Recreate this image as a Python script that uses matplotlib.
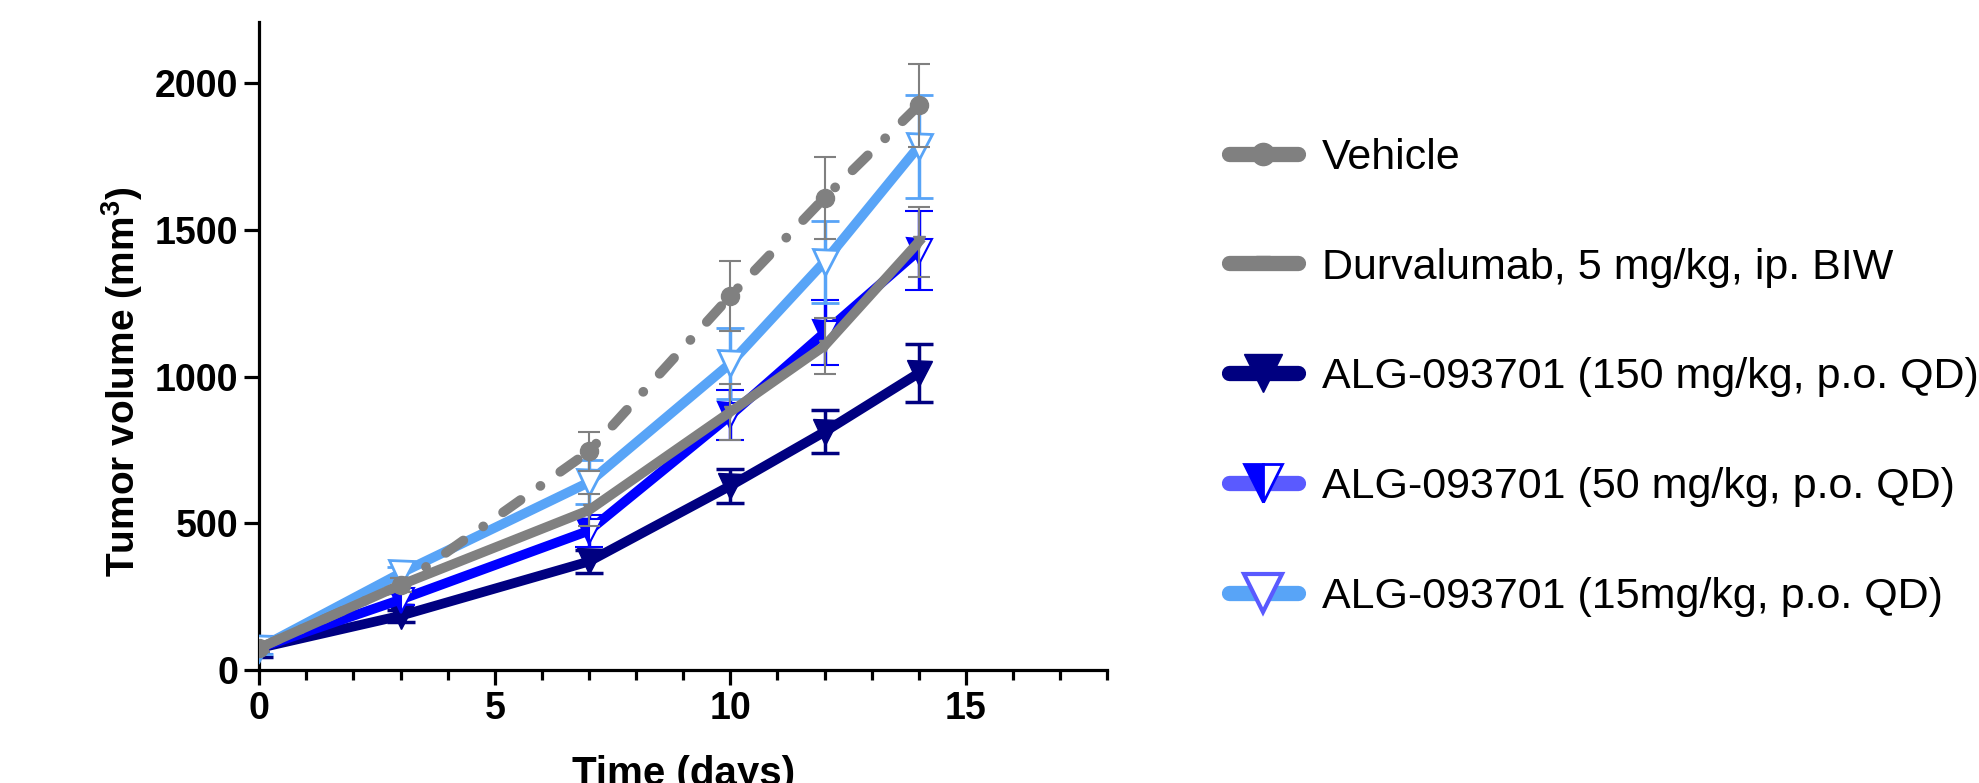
import matplotlib
matplotlib.use("Agg")
import matplotlib.pyplot as plt
from matplotlib.lines import Line2D

plt.rcParams['font.family'] = ['Liberation Sans', 'DejaVu Sans']
plt.rcParams['mathtext.fontset'] = 'custom'
plt.rcParams['mathtext.bf'] = 'Liberation Sans:bold'
plt.rcParams['mathtext.rm'] = 'Liberation Sans'

# data
days = [0, 3, 7, 10, 12, 14]

vehicle = [75, 290, 745, 1275, 1610, 1925]
vehicle_err = [15, 25, 65, 120, 140, 142]
durva = [75, 290, 545, 880, 1105, 1460]
durva_err = [15, 25, 55, 95, 95, 120]
alg150 = [75, 185, 370, 628, 812, 1012]
alg150_err = [30, 20, 40, 57, 73, 98]
alg50 = [75, 240, 475, 868, 1150, 1430]
alg50_err = [20, 20, 55, 85, 110, 135]
alg15 = [75, 330, 640, 1045, 1392, 1785]
alg15_err = [20, 20, 75, 120, 140, 175]

labels = ["Vehicle", "Durvalumab, 5 mg/kg, ip. BIW",
          "ALG-093701 (150 mg/kg, p.o. QD)", "ALG-093701 (50 mg/kg, p.o. QD)",
          "ALG-093701 (15mg/kg, p.o. QD)"]

gray = "#808080"
navy = "#000080"
blue = "#0000FF"
lblue = "#58A4F7"
purple = "#5A5AFF"

fig = plt.figure(figsize=(19.79, 7.83), dpi=100)
ax = fig.add_axes([0.131, 0.1443, 0.4285, 0.828])

lw = 7
# navy 150
ax.errorbar(days, alg150, yerr=alg150_err, color=navy, lw=lw, elinewidth=2.5,
            capsize=10, capthick=2.5, marker='v', ms=18, mfc=navy, mec=navy,
            zorder=2)
# blue 50
ax.errorbar(days, alg50, yerr=alg50_err, color=blue, lw=lw, elinewidth=2.5,
            capsize=10, capthick=2.5, marker='v', ms=18, mfc=blue, mec=blue,
            fillstyle='left', markerfacecoloralt='white', mew=1.5, zorder=3)
# light blue 15
ax.errorbar(days, alg15, yerr=alg15_err, color=lblue, lw=lw, elinewidth=2.5,
            capsize=10, capthick=2.5, marker='v', ms=18, mfc='white', mec=lblue,
            mew=2, zorder=4)
# durvalumab
ax.errorbar(days, durva, yerr=durva_err, color=gray, lw=lw, elinewidth=1.5,
            capsize=8, capthick=1.5, marker='v', ms=9, mfc=gray, mec=gray, zorder=5)
# vehicle
ax.errorbar(days, vehicle, yerr=vehicle_err, color=gray, lw=1.5, capsize=8,
            capthick=1.5, fmt='none', zorder=6)
ax.plot(days, vehicle, color=gray, lw=lw, linestyle=(0, (2.2, 2.5, 0.01, 2.5)),
        dash_capstyle='round', marker='o', ms=13, mfc=gray, mec=gray, zorder=6)

ax.set_xlim(0, 18)
ax.set_ylim(0, 2210)
ax.set_xticks([0, 5, 10, 15])
ax.set_xticks(range(0, 19), minor=True)
ax.set_yticks([0, 500, 1000, 1500, 2000])

for s in ['top', 'right']:
    ax.spines[s].set_visible(False)
for s in ['left', 'bottom']:
    ax.spines[s].set_linewidth(2.3)
ax.tick_params(which='major', length=11, width=2.3, labelsize=27, pad=4)
ax.tick_params(which='minor', length=7, width=2.3)
for t in ax.get_xticklabels() + ax.get_yticklabels():
    t.set_fontweight('bold')

ax.set_ylabel(r"Tumor volume (mm$^{\mathbf{3}}$)", fontsize=28, fontweight='bold')
ax.yaxis.set_label_coords(-0.135, 0.445)
ax.set_xlabel("Time (days)", fontsize=29, fontweight='bold', labelpad=20)

# legend proxies
hl = 11
handles = [
    Line2D([], [], color=gray, lw=hl, solid_capstyle='round', marker='o', ms=16,
           mfc=gray, mec=gray),
    Line2D([], [], color=gray, lw=hl, solid_capstyle='round', marker='v', ms=10,
           mfc=gray, mec=gray),
    Line2D([], [], color=navy, lw=hl, solid_capstyle='round', marker='v', ms=27,
           mfc=navy, mec=navy),
    Line2D([], [], color=purple, lw=hl, solid_capstyle='round', marker='v', ms=27,
           mfc=blue, mec=blue, fillstyle='left', markerfacecoloralt='white', mew=2),
    Line2D([], [], color=lblue, lw=hl, solid_capstyle='round', marker='v', ms=27,
           mfc='white', mec=purple, mew=3),
]
fig.legend(handles, labels, loc='upper left', bbox_to_anchor=(0.621, 0.824),
           frameon=False, fontsize=31, handlelength=1.6, handletextpad=0.55,
           labelspacing=1.62, borderpad=0, borderaxespad=0)

fig.savefig("out.png", dpi=100)
